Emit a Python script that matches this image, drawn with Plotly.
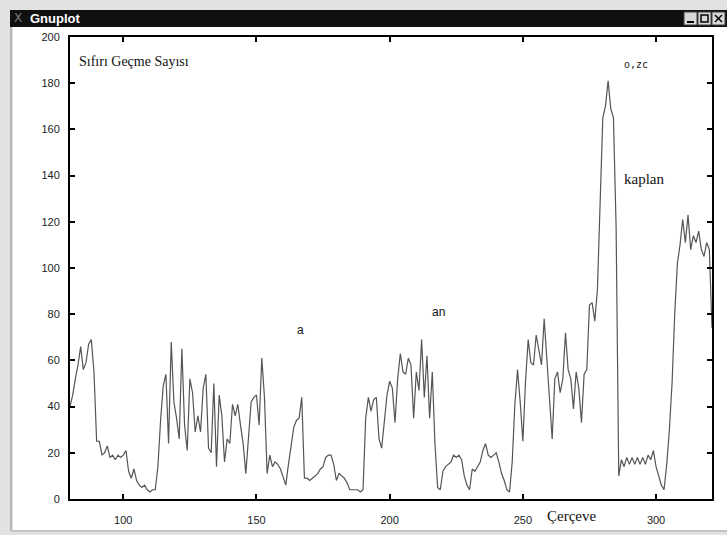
import plotly.graph_objects as go

# Zero-crossing count per frame
frame_start = 80
zc_counts = [
    40, 45, 52, 58, 66, 56, 59, 67, 69, 55,          # 80-89
    25, 25, 19, 20, 23, 18, 19, 17, 19, 18,          # 90-99
    19, 21, 12, 9, 13, 8, 6, 5, 6, 4,                # 100-109
    3, 4, 4, 14, 34, 49, 54, 24, 68, 42,             # 110-119
    35, 26, 65, 32, 21, 52, 46, 29, 36, 29,          # 120-129
    48, 54, 22, 20, 50, 14, 45, 36, 16, 26,          # 130-139
    24, 41, 36, 41, 32, 24, 11, 26, 42, 44,          # 140-149
    45, 32, 61, 44, 11, 19, 14, 16, 15, 13,          # 150-159
    9, 6, 15, 24, 31, 34, 35, 44, 9, 9,              # 160-169
    8, 9, 10, 11, 13, 14, 18, 19, 19, 15,            # 170-179
    8, 11, 10, 9, 7, 4, 4, 4, 4, 3,                  # 180-189
    4, 35, 44, 38, 43, 44, 26, 22, 33, 45,           # 190-199
    51, 48, 33, 52, 63, 55, 54, 61, 58, 35,          # 200-209
    55, 47, 69, 44, 62, 35, 55, 24, 5, 4,            # 210-219
    12, 14, 15, 16, 19, 18, 19, 17, 10, 6,           # 220-229
    4, 13, 12, 14, 16, 21, 24, 19, 18, 19,           # 230-239
    20, 16, 11, 8, 4, 3, 16, 41, 56, 42,             # 240-249
    25, 51, 69, 59, 58, 71, 64, 58, 78, 60,          # 250-259
    46, 26, 52, 55, 46, 52, 72, 56, 52, 39,          # 260-269
    55, 48, 33, 54, 56, 84, 85, 77, 91, 125,         # 270-279
    165, 170, 181, 169, 165, 118, 10, 17, 14, 18,    # 280-289
    15, 18, 15, 18, 15, 18, 15, 19, 17, 21,          # 290-299
    14, 10, 6, 4, 15, 30, 50, 80, 102, 110,          # 300-309
    121, 111, 123, 108, 114, 111, 116, 108, 105, 111,  # 310-319
    108, 74,                                         # 320-321
]
frames = list(range(frame_start, frame_start + len(zc_counts)))

x_ticks = [100, 150, 200, 250, 300]
y_ticks = [0, 20, 40, 60, 80, 100, 120, 140, 160, 180, 200]

# Word labels placed over the curve (frame, value)
word_labels = [("a", 166.5, 73), ("an", 218.5, 81)]

W, H = 727, 535
L, R, T, B = 70, 15, 37, 36
PW, PH = W - L - R, H - T - B


def px(x):
    return (x - L) / PW


def py(y):
    return (H - B - y) / PH


fig = go.Figure()
fig.add_trace(go.Scatter(
    x=frames, y=zc_counts, mode="lines",
    line=dict(color="#555555", width=1.2),
    hoverinfo="skip", showlegend=False,
))

shapes = [
    # white window canvas
    dict(type="rect", xref="paper", yref="paper", layer="below",
         x0=px(13), x1=px(W), y0=py(530), y1=py(27),
         fillcolor="white", line=dict(width=0)),
    # inner border line at left and bottom
    dict(type="line", xref="paper", yref="paper", layer="below",
         x0=px(11), x1=px(11), y0=py(531), y1=py(27),
         line=dict(color="#b8b8b8", width=2)),
    dict(type="line", xref="paper", yref="paper", layer="below",
         x0=px(11), x1=px(W), y0=py(531), y1=py(531),
         line=dict(color="#c4c4c4", width=2)),
    # title bar
    dict(type="rect", xref="paper", yref="paper",
         x0=px(10), x1=px(W), y0=py(27), y1=py(10),
         fillcolor="#101010", line=dict(width=0)),
]
# window buttons
for bx in (684, 698, 712):
    shapes.append(dict(type="rect", xref="paper", yref="paper",
                       x0=px(bx), x1=px(bx + 13), y0=py(25), y1=py(12),
                       fillcolor="#d8d8d8", line=dict(color="#404040", width=1)))
# minimise bar
shapes.append(dict(type="line", xref="paper", yref="paper",
                   x0=px(687), x1=px(694), y0=py(22), y1=py(22),
                   line=dict(color="black", width=2)))
# maximise box
shapes.append(dict(type="rect", xref="paper", yref="paper",
                   x0=px(701), x1=px(708), y0=py(22), y1=py(15),
                   line=dict(color="black", width=1.5)))
# close cross
shapes.append(dict(type="line", xref="paper", yref="paper",
                   x0=px(715), x1=px(722), y0=py(22), y1=py(15),
                   line=dict(color="black", width=1.5)))
shapes.append(dict(type="line", xref="paper", yref="paper",
                   x0=px(715), x1=px(722), y0=py(15), y1=py(22),
                   line=dict(color="black", width=1.5)))

annotations = [
    dict(text="<b>Gnuplot</b>", xref="paper", yref="paper", x=px(28), y=py(18.5),
         xanchor="left", yanchor="middle", showarrow=False,
         font=dict(family="Liberation Sans Narrow, Liberation Sans, Arial", size=13, color="white")),
    dict(text="X", xref="paper", yref="paper", x=px(18), y=py(18.5),
         xanchor="center", yanchor="middle", showarrow=False,
         font=dict(family="DejaVu Sans", size=12, color="#7a7a7a")),
    dict(text="Sıfırı Geçme Sayısı", xref="paper", yref="paper", x=px(77), y=py(61),
         xanchor="left", yanchor="middle", showarrow=False,
         font=dict(family="Liberation Serif", size=14, color="#111")),
    dict(text="o,zc", xref="paper", yref="paper", x=px(636), y=py(65),
         xanchor="center", yanchor="middle", showarrow=False,
         font=dict(family="DejaVu Sans Mono", size=10, color="#222")),
    dict(text="kaplan", xref="paper", yref="paper", x=px(622), y=py(179),
         xanchor="left", yanchor="middle", showarrow=False,
         font=dict(family="Liberation Serif", size=15, color="#111")),
    dict(text="Çerçeve", xref="paper", yref="paper", x=px(571), y=py(516),
         xanchor="center", yanchor="middle", showarrow=False,
         font=dict(family="Liberation Serif", size=15, color="#111")),
]
for word, fx, fy in word_labels:
    annotations.append(dict(text=word, x=fx, y=fy, xref="x", yref="y",
                            xanchor="center", yanchor="middle", showarrow=False,
                            font=dict(family="Liberation Sans", size=12, color="#111")))

axis_common = dict(
    showline=True, linecolor="black", linewidth=2, mirror="ticks",
    ticks="inside", ticklen=5, tickwidth=2, tickcolor="black",
    showgrid=False, zeroline=False, automargin=False,
    tickfont=dict(family="Liberation Sans", size=11, color="#222222"),
)

fig.update_layout(
    width=W, height=H,
    margin=dict(l=L, r=R, t=T, b=B),
    paper_bgcolor="#e2e2e2", plot_bgcolor="white",
    xaxis=dict(range=[80, 321], tickvals=x_ticks, ticklabelstandoff=10, **axis_common),
    yaxis=dict(range=[0, 200], tickvals=y_ticks, ticklabelstandoff=6, **axis_common),
    shapes=shapes, annotations=annotations,
    showlegend=False,
)

fig.write_html("out.html")
